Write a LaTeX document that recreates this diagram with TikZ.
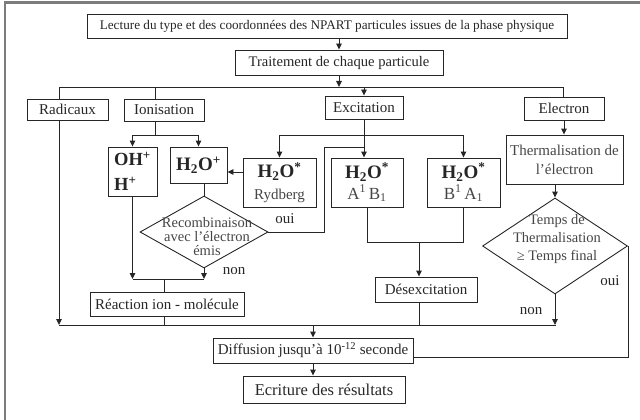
\documentclass[tikz,border=0pt]{standalone}
\usepackage{fontspec}
\setmainfont{Liberation Serif}
\usetikzlibrary{arrows.meta,shapes.geometric,calc}
\definecolor{ink}{HTML}{262626}
\definecolor{soft}{HTML}{454545}
\definecolor{framec}{HTML}{7C7C7C}
\newcommand{\myfs}[2]{\fontsize{#1}{#2}\selectfont}
\begin{document}
\begin{tikzpicture}[x=1pt,y=-1pt,
  box/.style={draw=ink,line width=0.9pt,rectangle,inner sep=0pt,text=ink,font=\myfs{15}{17}},
  dia/.style={draw=ink,line width=0.9pt,diamond,inner sep=0pt},
  ln/.style={draw=ink,line width=0.9pt},
  arr/.style={draw=ink,line width=0.9pt,-{Triangle[length=6pt,width=5.5pt]}},
  lbl/.style={inner sep=0pt,text=ink,font=\myfs{15}{17}},
  dtxt/.style={inner sep=0pt,text=soft,align=center}]
\useasboundingbox (0,0) rectangle (640,420);
\draw[framec,line width=2.6pt] (5,420) -- (5,2.5) -- (640,2.5);

% nodes
\node[box,minimum width=480pt,minimum height=24pt,font=\myfs{13.2}{15}] (top) at (327,26)
  {Lecture du type et des coordonnées des NPART particules issues de la phase physique};
\node[box,minimum width=208pt,minimum height=25pt,font=\myfs{14.6}{16}] (trait) at (339,62.5)
  {Traitement de chaque particule};
\node[box,minimum width=81pt,minimum height=21pt] (rad) at (67.5,109.5) {Radicaux};
\node[box,minimum width=80pt,minimum height=22pt] (ion) at (164,110) {Ionisation};
\node[box,minimum width=78pt,minimum height=23pt] (exc) at (364,107.5) {Excitation};
\node[box,minimum width=80pt,minimum height=23pt] (ele) at (564,108.5) {Electron};
\node[box,minimum width=49pt,minimum height=49pt,align=left,font=\myfs{18.5}{25}\bfseries] (oh) at (132.5,171.5)
  {OH\textsuperscript{+}\\H\textsuperscript{+}\hspace{12pt}};
\node[box,minimum width=57pt,minimum height=36pt,font=\myfs{19}{20}\bfseries] (hp) at (198.5,165)
  {H\textsubscript{2}O\textsuperscript{+}};
\node[box,minimum width=73pt,minimum height=49pt,align=center,font=\myfs{15}{22}] (ryd) at (279.5,182.5)
  {{\myfs{19}{20}\bfseries H\textsubscript{2}O\textsuperscript{*}}\\{\color{soft}Rydberg}};
\node[box,minimum width=72pt,minimum height=49pt,align=center,font=\myfs{17}{21}] (ab) at (367,182.5)
  {{\myfs{19}{20}\bfseries H\textsubscript{2}O\textsuperscript{*}}\\{\color{soft}A\textsuperscript{1}\,B\textsubscript{1}}};
\node[box,minimum width=73pt,minimum height=49pt,align=center,font=\myfs{17}{21}] (ba) at (463.5,182.5)
  {{\myfs{19}{20}\bfseries H\textsubscript{2}O\textsuperscript{*}}\\{\color{soft}B\textsuperscript{1}\,A\textsubscript{1}}};
\node[box,minimum width=117pt,minimum height=49pt,align=center,font=\myfs{15}{19},text=soft] (therm) at (564.5,159.5)
  {Thermalisation de\\l'électron};
\node[dia,minimum width=128pt,minimum height=72pt] (rec) at (204,232) {};
\node[dtxt,font=\myfs{14.5}{14}] (rectxt) at (207,237) {Recombinaison\\avec l'électron\\émis};
\node[dia,minimum width=145pt,minimum height=96pt] (temps) at (555,246) {};
\node[dtxt,font=\myfs{14.5}{18}] (tempstxt) at (557,239) {Temps de\\Thermalisation\\≥ Temps final};
\node[box,minimum width=154pt,minimum height=24pt] (reac) at (167,304) {Réaction ion - molécule};
\node[box,minimum width=102pt,minimum height=25pt] (desex) at (426,289.5) {Désexcitation};
\node[box,minimum width=200pt,minimum height=25pt] (diff) at (313,350.5)
  {Diffusion jusqu'à 10\textsuperscript{-12} seconde};
\node[box,minimum width=162pt,minimum height=27pt,font=\myfs{16.5}{18}] (ecr) at (324,389.5)
  {Ecriture des résultats};

\node[lbl] (oui1) at (285,219) {oui};
\node[lbl] (non1) at (234,271) {non};
\node[lbl] (oui2) at (610,281) {oui};
\node[lbl] (non2) at (531,311) {non};

% connectors
\coordinate (busL) at (59,87);
\coordinate (busR) at (563,87);
\coordinate (iv) at (155,87);
\coordinate (is) at (155,135);
\coordinate (es) at (363,135);
\coordinate (o1) at (324,147);
\coordinate (j1) at (164,279);
\coordinate (b2L) at (59,325);
\coordinate (b2R) at (556,325);
\coordinate (j2) at (419,242);
\coordinate (o2) at (628,357);

\draw[arr] (top.south -| trait.north) -- (trait.north);
\draw[arr] (trait.south) -- (trait.south |- busL);
\draw[ln] (busL |- rad.north) -- (busL) -- (busR) -- (busR |- ele.north);
\draw[ln] (iv) -- (iv |- ion.north);
\draw[arr] (exc.north |- busL) -- (exc.north);

\draw[ln] (is |- ion.south) -- (is);
\draw[arr] (is) -| (oh.north);
\draw[arr] (is) -| (hp.north);
\draw[ln] (rec.north |- hp.south) -- (rec.north);
\draw[arr] ($(ryd.west)+(0,-10.5)$) -- ($(hp.east)+(0,7)$);

\draw[arr] (exc.south) -- (exc.south |- ab.north);
\draw[ln] (ryd.north |- es) -- (ba.north |- es);
\draw[arr] (ryd.north |- es) -- (ryd.north);
\draw[arr] (ba.north |- es) -- (ba.north);
\draw[ln] (rec.east) -| (o1) -- (o1 -| exc.south);

\draw[arr] (rec.south) -- (rec.south |- j1);
\draw[arr] (oh.south) -- (oh.south |- j1);
\draw[ln] (oh.south |- j1) -- (rec.south |- j1);
\draw[ln] (j1) -- (j1 |- reac.north);
\draw[ln] (reac.south -| j1) -- (j1 |- b2L);

\draw[ln] (ab.south) |- (j2 -| ba.south) -- (ba.south);
\draw[arr] (j2) -- (j2 |- desex.north);
\draw[ln] (j2 |- desex.south) -- (j2 |- b2L);

\draw[arr] (busL |- rad.south) -- (b2L);
\draw[ln] (b2L) -- (b2R);

\draw[arr] (ele.south) -- (ele.south |- therm.north);
\draw[arr] (therm.south -| temps.north) -- (temps.north);
\draw[arr] (temps.south) -- (temps.south |- b2R);
\draw[ln] (temps.east) -- (temps.east |- o2) -- (o2 -| diff.east);

\draw[arr] (diff.north |- b2L) -- (diff.north);
\draw[arr] (diff.south) -- (diff.south |- ecr.north);
\end{tikzpicture}
\end{document}
